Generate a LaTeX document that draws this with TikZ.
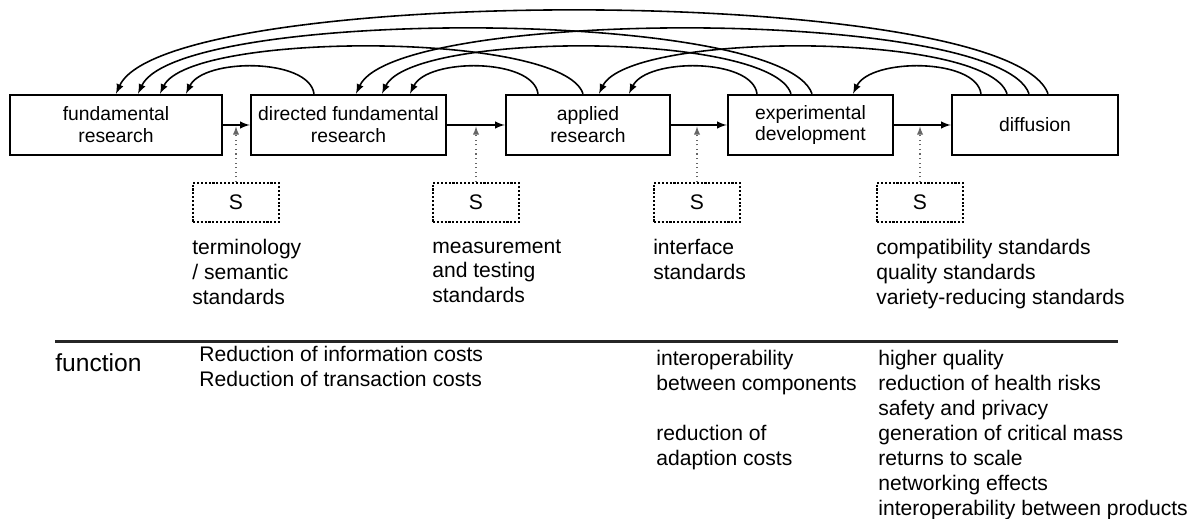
\documentclass[tikz,border=0pt]{standalone}
\usepackage{fontspec}
\setmainfont{Liberation Sans}
\usepackage{tikz}
\usetikzlibrary{arrows}

\tikzset{
  stage/.style={draw, line width=1.4pt, minimum height=1.2cm, inner sep=0pt,
    align=center, font=\fontsize{11}{12.5}\selectfont},
  sbox/.style={draw, densely dotted, line width=1.2pt, minimum width=1.72cm,
    minimum height=0.78cm, inner sep=0pt, font=\fontsize{12}{14}\selectfont},
  flow/.style={-latex, line width=0.9pt},
  back/.style={-latex, line width=0.9pt},
  stdarrow/.style={-latex, dotted, line width=0.6pt, black!60},
  lbl/.style={align=left, anchor=north west, inner sep=0pt,
    font=\fontsize{12}{14.2}\selectfont}
}

\begin{document}
\begin{tikzpicture}
  \useasboundingbox (0,0) rectangle (23.94,10.36);

  \node[stage, minimum width=4.24cm] (fr)   at (2.32,7.86)  {fundamental\\research};
  \node[stage, minimum width=3.9cm]  (dfr)  at (6.97,7.86)  {directed fundamental\\research};
  \node[stage, minimum width=3.28cm] (ar)   at (11.76,7.86) {applied\\research};
  \node[stage, minimum width=3.3cm]  (ed)   at (16.21,7.86) {experimental\\development};
  \node[stage, minimum width=3.32cm] (diff) at (20.7,7.86)  {diffusion};

  \draw[flow] (fr) -- (dfr);
  \draw[flow] (dfr) -- (ar);
  \draw[flow] (ar) -- (ed);
  \draw[flow] (ed) -- (diff);

  % feedback loops
  \draw[back] ([xshift=-0.69cm]dfr.north) .. controls +(-0.1,0.72) and +(0.35,0.72) .. ([xshift=1.4cm]fr.north);
  \draw[back] ([xshift=-1.0cm]ar.north) .. controls +(-0.1,0.72) and +(0.35,0.72) .. ([xshift=1.23cm]dfr.north);
  \draw[back] ([xshift=-1.07cm]ed.north) .. controls +(-0.1,0.72) and +(0.35,0.72) .. ([xshift=0.82cm]ar.north);
  \draw[back] ([xshift=-1.08cm]diff.north) .. controls +(-0.1,0.72) and +(0.35,0.72) .. ([xshift=0.85cm]ed.north);

  \draw[back] ([xshift=-0.1cm]ar.north) .. controls +(-0.4,1.25) and +(0.6,1.25) .. ([xshift=0.88cm]fr.north);
  \draw[back] ([xshift=-0.39cm]ed.north) .. controls +(-0.4,1.25) and +(0.6,1.25) .. ([xshift=0.67cm]dfr.north);
  \draw[back] ([xshift=-0.56cm]diff.north) .. controls +(-0.4,1.25) and +(0.6,1.25) .. ([xshift=0.22cm]ar.north);

  \draw[back] ([xshift=0.03cm]ed.north) .. controls +(-0.6,1.73) and +(0.8,1.73) .. ([xshift=0.44cm]fr.north);
  \draw[back] ([xshift=-0.12cm]diff.north) .. controls +(-0.6,1.73) and +(0.8,1.73) .. ([xshift=0.15cm]dfr.north);

  \draw[back] ([xshift=0.26cm]diff.north) .. controls +(-0.8,2.21) and +(1.0,2.21) .. (fr.north);

  % standards
  \node[sbox] (s1) at (4.72,6.31)  {S};
  \node[sbox] (s2) at (9.52,6.31)  {S};
  \node[sbox] (s3) at (13.94,6.31) {S};
  \node[sbox] (s4) at (18.4,6.31)  {S};

  \coordinate (m1) at (s1.north |- fr.east);
  \coordinate (m2) at (s2.north |- fr.east);
  \coordinate (m3) at (s3.north |- fr.east);
  \coordinate (m4) at (s4.north |- fr.east);
  \draw[stdarrow] (s1.north) -- ([yshift=-0.03cm]m1);
  \draw[stdarrow] (s2.north) -- ([yshift=-0.03cm]m2);
  \draw[stdarrow] (s3.north) -- ([yshift=-0.03cm]m3);
  \draw[stdarrow] (s4.north) -- ([yshift=-0.03cm]m4);

  \node[lbl] (t1) at ([yshift=-0.32cm]s1.south west) {terminology\\/ semantic\\standards};
  \node[lbl] (t2) at ([yshift=-0.32cm]s2.south west) {measurement\\and testing\\standards};
  \node[lbl] (t3) at ([yshift=-0.32cm]s3.south west) {interface\\standards};
  \node[lbl] (t4) at ([yshift=-0.32cm]s4.south west) {compatibility standards\\quality standards\\variety-reducing standards};

  % functions
  \coordinate (r0) at (1.1,3.53);
  \coordinate (r1) at (22.36,3.53);
  \draw[line width=1.3pt, black!85] (r0) -- (r1);

  \node[anchor=west, inner sep=0pt, font=\fontsize{14}{16}\selectfont] (fn) at (1.1,3.1) {function};
  \node[lbl] (f1) at (3.98,3.44) {Reduction of information costs\\Reduction of transaction costs};
  \node[lbl] (f2) at (13.12,3.36) {interoperability\\between components\\[14.2pt]reduction of\\adaption costs};
  \node[lbl] (f3) at (17.56,3.36) {higher quality\\reduction of health risks\\safety and privacy\\generation of critical mass\\returns to scale\\networking effects\\interoperability between products};
\end{tikzpicture}
\end{document}
